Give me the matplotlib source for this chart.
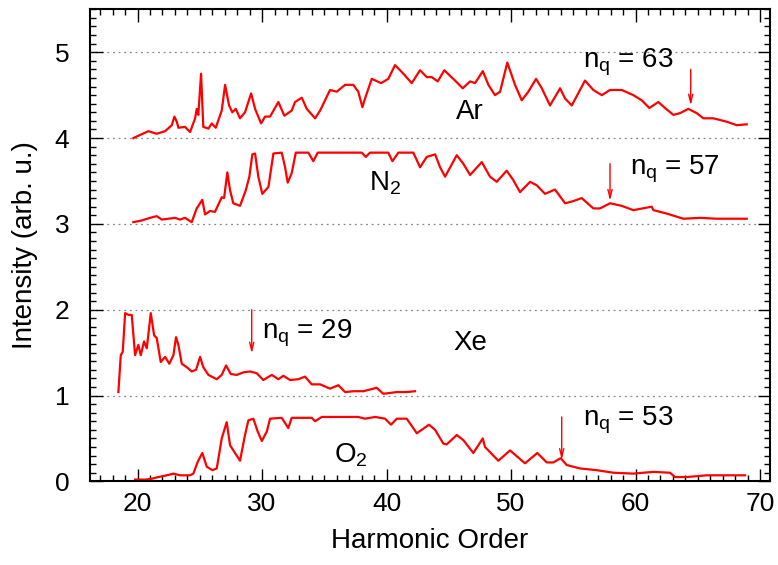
import matplotlib
matplotlib.use("Agg")
import matplotlib.pyplot as plt
from matplotlib.ticker import MultipleLocator

# harmonic spectra, already stacked (Ar +4, N2 +3, Xe +1, O2 +0)
ar_order = [19.66, 20.87, 21.54, 22.21, 22.75, 22.96, 23.15, 23.28, 23.81, 24.22, 24.62, 24.75, 24.88, 25.10,
            25.28, 25.69, 25.96, 26.28, 26.76, 27.03, 27.35, 27.61, 27.89, 28.23, 28.63, 29.12, 29.44, 29.92,
            30.24, 30.64, 31.31, 31.79, 32.38, 32.65, 33.19, 33.59, 34.26, 34.66, 35.46, 36.00, 36.67, 37.33,
            37.73, 38.06, 38.27, 38.81, 39.56, 40.14, 40.68, 41.35, 42.02, 42.69, 43.23, 43.63, 44.11, 44.64,
            45.50, 46.12, 46.71, 47.11, 47.73, 48.18, 48.71, 49.12, 49.70, 50.32, 50.86, 51.39, 52.01, 52.47,
            53.13, 53.94, 54.34, 54.88, 55.94, 56.61, 57.29, 57.95, 58.89, 59.82, 60.50, 61.11, 61.83, 62.29,
            63.04, 63.57, 64.24, 64.92, 65.45, 66.25, 67.33, 68.13, 68.93]
ar_intensity = [4.00, 4.08, 4.05, 4.08, 4.15, 4.25, 4.19, 4.12, 4.13, 4.07, 4.23, 4.34, 4.27, 4.75,
                4.13, 4.11, 4.17, 4.12, 4.32, 4.62, 4.38, 4.30, 4.34, 4.23, 4.30, 4.52, 4.34, 4.17,
                4.25, 4.25, 4.42, 4.26, 4.32, 4.42, 4.47, 4.34, 4.23, 4.32, 4.56, 4.54, 4.62, 4.62,
                4.54, 4.36, 4.46, 4.69, 4.64, 4.69, 4.85, 4.75, 4.64, 4.79, 4.71, 4.71, 4.66, 4.79,
                4.67, 4.58, 4.66, 4.64, 4.78, 4.62, 4.50, 4.54, 4.88, 4.62, 4.44, 4.54, 4.69, 4.58,
                4.38, 4.58, 4.46, 4.38, 4.67, 4.56, 4.50, 4.56, 4.56, 4.50, 4.44, 4.35, 4.42, 4.36,
                4.27, 4.29, 4.34, 4.29, 4.23, 4.23, 4.19, 4.15, 4.16]

n2_order = [19.66, 20.34, 21.00, 21.54, 21.94, 22.47, 23.01, 23.41, 23.81, 24.35, 24.75, 25.20, 25.42, 25.82,
            26.22, 26.76, 26.95, 27.21, 27.43, 27.69, 28.23, 28.69, 28.98, 29.22, 29.44, 29.70, 30.02, 30.51,
            30.91, 31.58, 31.85, 32.06, 32.38, 32.71, 33.72, 34.12, 34.47, 38.01, 38.33, 38.67, 40.14, 40.47,
            40.95, 42.15, 42.69, 43.23, 43.90, 44.30, 44.70, 45.64, 46.17, 46.71, 47.65, 48.31, 48.85, 49.65,
            50.18, 50.72, 51.53, 52.06, 52.73, 53.53, 54.34, 54.88, 55.68, 56.61, 57.15, 57.95, 58.89, 59.82,
            61.30, 61.43, 62.51, 63.84, 65.18, 66.52, 67.86, 68.93]
n2_intensity = [3.02, 3.04, 3.07, 3.09, 3.05, 3.06, 3.07, 3.05, 3.07, 3.02, 3.18, 3.28, 3.11, 3.15,
                3.14, 3.31, 3.30, 3.60, 3.39, 3.24, 3.21, 3.39, 3.55, 3.81, 3.82, 3.55, 3.35, 3.43,
                3.82, 3.83, 3.66, 3.48, 3.59, 3.83, 3.83, 3.73, 3.83, 3.83, 3.78, 3.83, 3.83, 3.73,
                3.83, 3.83, 3.66, 3.78, 3.81, 3.66, 3.55, 3.80, 3.70, 3.57, 3.72, 3.55, 3.49, 3.62,
                3.51, 3.37, 3.49, 3.45, 3.35, 3.40, 3.24, 3.26, 3.30, 3.18, 3.18, 3.24, 3.21, 3.16,
                3.20, 3.16, 3.12, 3.06, 3.07, 3.06, 3.06, 3.06]

xe_order = [18.46, 18.65, 18.81, 19.00, 19.26, 19.53, 19.80, 20.06, 20.26, 20.52, 20.74, 21.06, 21.33, 21.54,
            21.86, 22.21, 22.55, 22.88, 23.09, 23.28, 23.55, 23.95, 24.35, 24.70, 25.02, 25.28, 25.69, 26.36,
            26.76, 27.11, 27.49, 27.97, 28.50, 29.04, 29.57, 30.10, 30.78, 31.31, 31.71, 32.25, 32.92, 33.45,
            33.99, 34.66, 35.46, 36.13, 36.67, 37.33, 38.14, 39.21, 39.74, 40.82, 41.62, 42.29]
xe_intensity = [1.04, 1.47, 1.51, 1.96, 1.94, 1.94, 1.47, 1.59, 1.47, 1.63, 1.55, 1.96, 1.70, 1.67,
                1.39, 1.45, 1.37, 1.47, 1.68, 1.59, 1.37, 1.33, 1.28, 1.30, 1.45, 1.33, 1.24, 1.19,
                1.24, 1.35, 1.25, 1.24, 1.27, 1.28, 1.26, 1.18, 1.24, 1.19, 1.23, 1.18, 1.19, 1.22,
                1.13, 1.13, 1.08, 1.12, 1.04, 1.05, 1.05, 1.09, 1.02, 1.04, 1.04, 1.05]

o2_order = [19.80, 20.60, 21.14, 21.67, 22.35, 22.88, 23.41, 24.22, 24.48, 24.84, 25.20, 25.56, 26.01, 26.36,
            26.76, 27.16, 27.43, 28.23, 28.63, 28.90, 29.30, 29.65, 29.98, 30.38, 30.64, 31.58, 32.11, 32.38,
            33.99, 34.26, 34.80, 37.73, 38.27, 39.08, 39.88, 40.36, 40.82, 41.62, 42.43, 43.41, 43.90, 44.56,
            44.83, 45.64, 46.17, 46.97, 47.73, 47.91, 48.98, 49.92, 51.12, 52.11, 52.87, 53.40, 53.99, 54.47,
            55.54, 56.88, 58.22, 59.82, 61.43, 62.77, 63.17, 64.11, 65.72, 67.59, 68.80]
o2_intensity = [0.02, 0.02, 0.03, 0.05, 0.07, 0.09, 0.07, 0.07, 0.09, 0.23, 0.33, 0.17, 0.13, 0.15,
                0.50, 0.69, 0.42, 0.24, 0.54, 0.71, 0.73, 0.58, 0.47, 0.58, 0.73, 0.74, 0.62, 0.74,
                0.74, 0.70, 0.75, 0.75, 0.73, 0.75, 0.73, 0.66, 0.73, 0.73, 0.56, 0.66, 0.60, 0.44,
                0.43, 0.54, 0.48, 0.33, 0.50, 0.40, 0.24, 0.36, 0.21, 0.33, 0.22, 0.22, 0.27, 0.19,
                0.15, 0.13, 0.10, 0.09, 0.11, 0.10, 0.05, 0.05, 0.07, 0.07, 0.07]

# gas labels: text, x, y
gas_labels = ["Ar", "N$_\\mathregular{2}$", "Xe", "O$_\\mathregular{2}$"]
gas_label_x = [46.7, 39.9, 46.7, 37.1]
gas_label_y = [4.30, 3.47, 1.61, 0.30]

# cutoff arrows: n_q value, arrow x, arrow top, arrow tip, text position
cutoff_nq = [63, 57, 29, 53]
cutoff_x = [64.43, 57.95, 29.17, 54.07]
cutoff_top = [4.80, 3.70, 2.00, 0.75]
cutoff_tip = [4.38, 3.27, 1.49, 0.25]
cutoff_text_x = [59.4, 63.2, 33.6, 59.4]
cutoff_text_y = [4.88, 3.63, 1.73, 0.71]


def setup_style():
    plt.rcParams['font.family'] = ['Liberation Sans', 'DejaVu Sans']
    plt.rcParams['mathtext.fontset'] = 'custom'
    plt.rcParams['mathtext.rm'] = 'Liberation Sans'
    plt.rcParams['mathtext.default'] = 'regular'


def plot_spectra():
    fig = plt.figure(figsize=(7.78, 5.65), dpi=100)
    ax = fig.add_axes([0.1157, 0.1481, 0.8740, 0.8354])

    red = '#ff0000'
    ax.plot(ar_order, ar_intensity, color=red, lw=1.6)
    ax.plot(n2_order, n2_intensity, color=red, lw=1.6)
    ax.plot(xe_order, xe_intensity, color=red, lw=1.6)
    ax.plot(o2_order, o2_intensity, color=red, lw=1.6)

    for i in range(len(gas_labels)):
        ax.text(gas_label_x[i], gas_label_y[i], gas_labels[i], fontsize=20, ha='center', va='center')

    for i in range(len(cutoff_nq)):
        ax.annotate("", xy=(cutoff_x[i], cutoff_tip[i]), xytext=(cutoff_x[i], cutoff_top[i]),
                    arrowprops=dict(arrowstyle='->,head_length=0.6,head_width=0.15', color=red, lw=1,
                                    shrinkA=0, shrinkB=0))
        ax.text(cutoff_text_x[i], cutoff_text_y[i], "n$_\\mathregular{q}$ = " + str(cutoff_nq[i]),
                fontsize=20, ha='center', va='center')

    ax.set_xlim(16.18, 70.8)
    ax.set_ylim(0, 5.5)
    ax.xaxis.set_major_locator(MultipleLocator(10))
    ax.xaxis.set_minor_locator(MultipleLocator(1))
    ax.yaxis.set_major_locator(MultipleLocator(1))
    ax.yaxis.set_minor_locator(MultipleLocator(0.1))
    ax.tick_params(which='both', direction='in', top=True, right=True, width=1)
    ax.tick_params(which='major', length=9, labelsize=19, pad=8)
    ax.tick_params(which='minor', length=4.5)
    ax.tick_params(axis='y', which='major', pad=15)
    for spine in ax.spines.values():
        spine.set_linewidth(1.5)

    ax.yaxis.grid(True, which='major', linestyle=(0, (1.5, 3)), color='#888888', lw=0.9)
    ax.set_axisbelow(True)

    ax.set_xlabel("Harmonic Order", fontsize=20, labelpad=8)
    ax.set_ylabel("Intensity (arb. u.)", fontsize=20, labelpad=12)

    fig.savefig("out.png", dpi=100)


def main():
    setup_style()
    plot_spectra()


if __name__ == "__main__":
    main()
